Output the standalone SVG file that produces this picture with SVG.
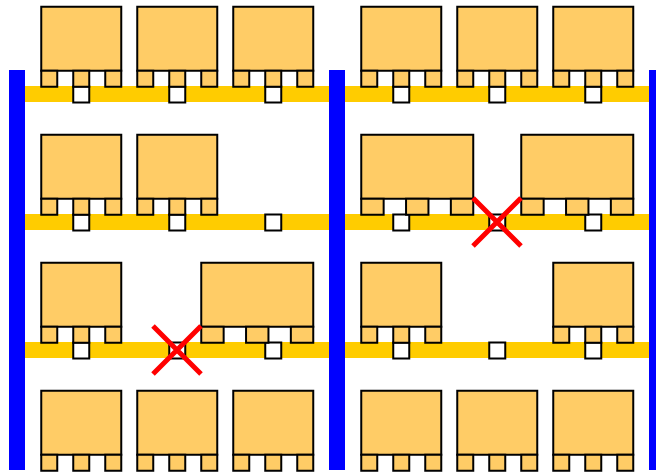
<svg xmlns="http://www.w3.org/2000/svg" width="656" height="472" viewBox="0 0 656 472">
<style>
.p{fill:#ffcc66;stroke:#000;stroke-width:2}
.s{fill:#fff;stroke:#000;stroke-width:2}
.b{fill:#ffcc00}
.u{fill:#0000ff}
.x{fill:none;stroke:#ff0000;stroke-width:5}
</style>
<defs>
<g id="n"><rect class="p" x="0.25" y="-0.25" width="80" height="64"/><rect class="p" x="0.25" y="63.75" width="16" height="16"/><rect class="p" x="32.25" y="63.75" width="16" height="16"/><rect class="p" x="64.25" y="63.75" width="16" height="16"/></g>
<g id="w"><rect class="p" x="0.25" y="-0.25" width="112" height="64"/><rect class="p" x="0.25" y="63.75" width="22.4" height="16"/><rect class="p" x="45.05" y="63.75" width="22.4" height="16"/><rect class="p" x="89.85" y="63.75" width="22.4" height="16"/></g>
<rect id="k" class="s" width="16" height="16"/>
</defs>
<g id="beams">
<rect class="b" x="25" y="86" width="304" height="16"/><rect class="b" x="345" y="86" width="304" height="16"/>
<rect class="b" x="25" y="214" width="304" height="16"/><rect class="b" x="345" y="214" width="304" height="16"/>
<rect class="b" x="25" y="342" width="304" height="16"/><rect class="b" x="345" y="342" width="304" height="16"/>
</g>
<g id="uprights">
<rect class="u" x="9" y="70" width="16" height="400"/><rect class="u" x="329" y="70" width="16" height="400"/><rect class="u" x="649" y="70" width="16" height="400"/>
</g>
<g id="sockets">
<use href="#k" x="73.25" y="86.5"/><use href="#k" x="169.25" y="86.5"/><use href="#k" x="265.25" y="86.5"/><use href="#k" x="393.25" y="86.5"/><use href="#k" x="489.25" y="86.5"/><use href="#k" x="585.25" y="86.5"/>
<use href="#k" x="73.25" y="214.5"/><use href="#k" x="169.25" y="214.5"/><use href="#k" x="265.25" y="214.5"/><use href="#k" x="393.25" y="214.5"/><use href="#k" x="489.25" y="214.5"/><use href="#k" x="585.25" y="214.5"/>
<use href="#k" x="73.25" y="342.5"/><use href="#k" x="169.25" y="342.5"/><use href="#k" x="265.25" y="342.5"/><use href="#k" x="393.25" y="342.5"/><use href="#k" x="489.25" y="342.5"/><use href="#k" x="585.25" y="342.5"/>
</g>
<g id="pallet-1"><use href="#n" x="41" y="7"/></g>
<g id="pallet-2"><use href="#n" x="137" y="7"/></g>
<g id="pallet-3"><use href="#n" x="233" y="7"/></g>
<g id="pallet-4"><use href="#n" x="361" y="7"/></g>
<g id="pallet-5"><use href="#n" x="457" y="7"/></g>
<g id="pallet-6"><use href="#n" x="553" y="7"/></g>
<g id="pallet-7"><use href="#n" x="41" y="135"/></g>
<g id="pallet-8"><use href="#n" x="137" y="135"/></g>
<g id="pallet-9"><use href="#w" x="361" y="135"/></g>
<g id="pallet-10"><use href="#w" x="521" y="135"/></g>
<g id="pallet-11"><use href="#n" x="41" y="263"/></g>
<g id="pallet-12"><use href="#w" x="201" y="263"/></g>
<g id="pallet-13"><use href="#n" x="361" y="263"/></g>
<g id="pallet-14"><use href="#n" x="553" y="263"/></g>
<g id="pallet-15"><use href="#n" x="41" y="391"/></g>
<g id="pallet-16"><use href="#n" x="137" y="391"/></g>
<g id="pallet-17"><use href="#n" x="233" y="391"/></g>
<g id="pallet-18"><use href="#n" x="361" y="391"/></g>
<g id="pallet-19"><use href="#n" x="457" y="391"/></g>
<g id="pallet-20"><use href="#n" x="553" y="391"/></g>
<g id="cross-1"><path class="x" d="M473 198L521 246M521 198L473 246"/></g>
<g id="cross-2"><path class="x" d="M153 326L201 374M201 326L153 374"/></g>
</svg>
